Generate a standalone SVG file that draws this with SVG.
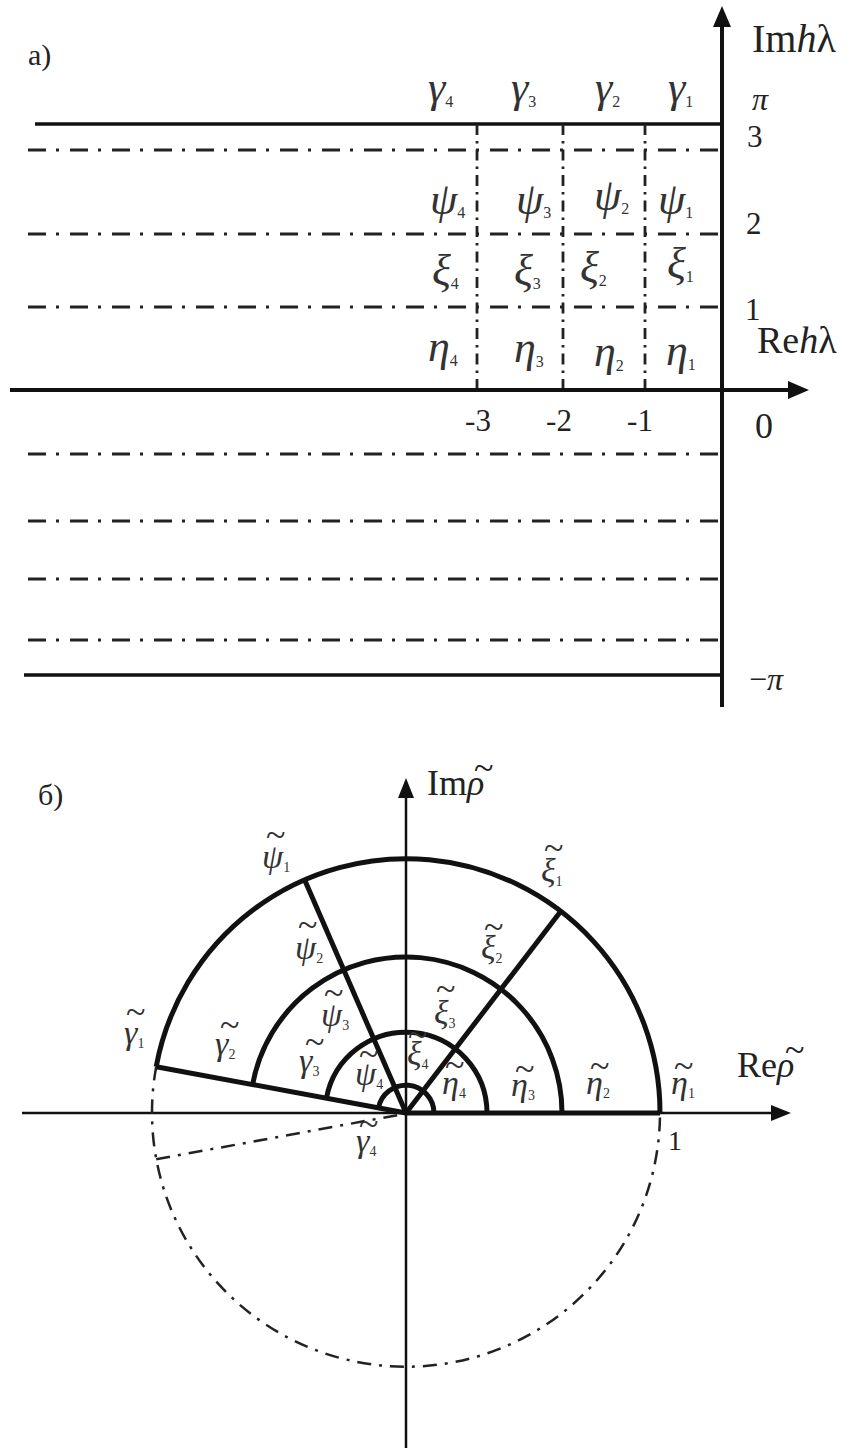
<svg xmlns="http://www.w3.org/2000/svg" width="852" height="1448" viewBox="0 0 852 1448">
<style>
.bg{fill:#fff}
.ax{stroke:#111;stroke-width:4;fill:none}
.ax2{stroke:#111;stroke-width:2.5;fill:none}
.sol{stroke:#111;stroke-width:3.5;fill:none}
.thk{stroke:#111;stroke-width:5;fill:none;stroke-linejoin:round}
.dd{stroke:#222;stroke-width:3;fill:none;stroke-dasharray:18 10 3 11}
.vd{stroke:#222;stroke-width:2.8;fill:none;stroke-dasharray:11 6 2.5 6}
.dc{stroke:#222;stroke-width:2.5;fill:none;stroke-dasharray:14 8 3 8}
.ah{fill:#111}
.g{font-family:"Liberation Serif","DejaVu Serif",serif;font-style:italic;font-size:44px;fill:#333}
.gb{font-family:"Liberation Serif","DejaVu Serif",serif;font-size:36px;fill:#333}
.L{font-style:italic;font-size:34px}
.s{font-style:normal;font-size:16px}
.sb{font-style:normal;font-size:14px}
.t{font-family:"Liberation Serif","DejaVu Serif",serif;fill:#222}
.it{font-style:italic}
</style>
<rect class="bg" x="0" y="0" width="852" height="1448"/>

<g id="panel-a">
  <g id="a-lines">
    <path class="sol" d="M35,124 H722"/>
    <path class="sol" d="M24,675 H722"/>
    <path class="dd" d="M28,150 H722"/>
    <path class="dd" d="M28,234 H722"/>
    <path class="dd" d="M28,307 H722"/>
    <path class="dd" d="M28,454 H722"/>
    <path class="dd" d="M28,521 H722"/>
    <path class="dd" d="M28,579 H722"/>
    <path class="dd" d="M28,640 H722"/>
    <path class="vd" d="M477,124 V390"/>
    <path class="vd" d="M563,124 V390"/>
    <path class="vd" d="M645,124 V390"/>
  </g>
  <g id="a-axes">
    <path class="ax" d="M10,390 H792"/>
    <polygon class="ah" points="809,390 788,381 788,399"/>
    <path class="ax" d="M722,707 V24"/>
    <polygon class="ah" points="722,6 713,27 731,27"/>
  </g>
  <g id="a-labels">
    <text class="t" x="28" y="65" font-size="30">a)</text>
    <text class="t" x="752" y="52" font-size="40">Im<tspan class="it">h</tspan>λ</text>
    <text class="t" x="757" y="353" font-size="38">Re<tspan class="it">h</tspan>λ</text>
    <text class="t it" x="752" y="110" font-size="32">π</text>
    <text class="t" x="747" y="147" font-size="31">3</text>
    <text class="t" x="746" y="234" font-size="31">2</text>
    <text class="t" x="745" y="320" font-size="31">1</text>
    <text class="t" x="755" y="438" font-size="36">0</text>
    <text class="t" x="478" y="431" font-size="31" text-anchor="middle">-3</text>
    <text class="t" x="559" y="431" font-size="31" text-anchor="middle">-2</text>
    <text class="t" x="640" y="431" font-size="31" text-anchor="middle">-1</text>
    <text class="t" x="749" y="690" font-size="32">−<tspan class="it">π</tspan></text>

    <text class="g" x="428" y="102">γ<tspan class="s" dy="5">4</tspan></text>
    <text class="g" x="511" y="102">γ<tspan class="s" dy="5">3</tspan></text>
    <text class="g" x="595" y="102">γ<tspan class="s" dy="5">2</tspan></text>
    <text class="g" x="668" y="102">γ<tspan class="s" dy="5">1</tspan></text>

    <text class="g" x="430" y="214">ψ<tspan class="s" dy="4">4</tspan></text>
    <text class="g" x="516" y="214">ψ<tspan class="s" dy="4">3</tspan></text>
    <text class="g" x="594" y="210">ψ<tspan class="s" dy="4">2</tspan></text>
    <text class="g" x="658" y="214">ψ<tspan class="s" dy="4">1</tspan></text>

    <text class="g" x="432" y="285">ξ<tspan class="s" dy="4">4</tspan></text>
    <text class="g" x="514" y="285">ξ<tspan class="s" dy="4">3</tspan></text>
    <text class="g" x="580" y="282">ξ<tspan class="s" dy="4">2</tspan></text>
    <text class="g" x="667" y="278">ξ<tspan class="s" dy="4">1</tspan></text>

    <text class="g" x="428" y="361">η<tspan class="s" dy="5">4</tspan></text>
    <text class="g" x="514" y="362">η<tspan class="s" dy="5">3</tspan></text>
    <text class="g" x="594" y="366">η<tspan class="s" dy="5">2</tspan></text>
    <text class="g" x="666" y="365">η<tspan class="s" dy="5">1</tspan></text>
  </g>
</g>

<g id="panel-b">
  <g id="b-axes">
    <path class="ax2" d="M22,1113 H775"/>
    <polygon class="ah" points="791,1113 771,1105 771,1121"/>
    <path class="ax2" d="M406,1448 V795"/>
    <polygon class="ah" points="406,778 398,798 414,798"/>
  </g>
  <g id="b-dashed">
    <path class="dc" d="M156.2,1066.7 A254,254 0 1 0 660,1113"/>
    <path class="dc" d="M156.2,1159.3 L398,1115"/>
  </g>
  <g id="b-arcs">
    <path class="thk" d="M156.2,1066.7 A254,254 0 0 1 660,1113"/>
    <path class="thk" d="M252.6,1084.6 A156,156 0 0 1 562,1113"/>
    <path class="thk" d="M326.4,1098.2 A81,81 0 0 1 487,1113"/>
    <path class="thk" d="M378.5,1107.9 A28,28 0 0 1 434,1113"/>
  </g>
  <g id="b-rays">
    <path class="thk" d="M156.2,1066.7 L406,1113"/>
    <path class="thk" d="M304.7,880.1 L406,1113"/>
    <path class="thk" d="M560.6,911.5 L406,1113"/>
    <path class="thk" d="M406,1113 H660"/>
  </g>
  <g id="b-labels">
    <text class="t" x="38" y="805" font-size="30">б)</text>
    <text class="t" x="427" y="795" font-size="36">Im<tspan class="it">ρ</tspan><tspan x="474" y="780">~</tspan></text>
    <text class="t" x="737" y="1077" font-size="36">Re<tspan class="it">ρ</tspan><tspan x="785" y="1062">~</tspan></text>
    <text class="t" x="668" y="1150" font-size="28">1</text>

    <text id="lbl-psi1" class="gb" x="266" y="847">~<tspan class="L" x="262" y="868">ψ</tspan><tspan class="sb" dy="4">1</tspan></text>
    <text id="lbl-psi2" class="gb" x="298" y="937">~<tspan class="L" x="295" y="959">ψ</tspan><tspan class="sb" dy="4">2</tspan></text>
    <text id="lbl-psi3" class="gb" x="324" y="1005">~<tspan class="L" x="321" y="1026">ψ</tspan><tspan class="sb" dy="4">3</tspan></text>
    <text id="lbl-psi4" class="gb" x="359" y="1066">~<tspan class="L" x="355" y="1085">ψ</tspan><tspan class="sb" dy="4">4</tspan></text>

    <text id="lbl-gam1" class="gb" x="126" y="1024">~<tspan class="L" x="124" y="1044">γ</tspan><tspan class="sb" dy="4">1</tspan></text>
    <text id="lbl-gam2" class="gb" x="220" y="1037">~<tspan class="L" x="215" y="1055">γ</tspan><tspan class="sb" dy="4">2</tspan></text>
    <text id="lbl-gam3" class="gb" x="305" y="1054">~<tspan class="L" x="299" y="1072">γ</tspan><tspan class="sb" dy="4">3</tspan></text>
    <text id="lbl-gam4" class="gb" x="359" y="1136">~<tspan class="L" x="356" y="1152">γ</tspan><tspan class="sb" dy="4">4</tspan></text>

    <text id="lbl-xi1" class="gb" x="544" y="860">~<tspan class="L" x="541" y="882">ξ</tspan><tspan class="sb" dy="4">1</tspan></text>
    <text id="lbl-xi2" class="gb" x="484" y="939">~<tspan class="L" x="481" y="959">ξ</tspan><tspan class="sb" dy="4">2</tspan></text>
    <text id="lbl-xi3" class="gb" x="436" y="1001">~<tspan class="L" x="434" y="1024">ξ</tspan><tspan class="sb" dy="4">3</tspan></text>
    <text id="lbl-xi4" class="gb" x="408" y="1047">~<tspan class="L" x="407" y="1065">ξ</tspan><tspan class="sb" dy="4">4</tspan></text>

    <text id="lbl-eta4" class="gb" x="445" y="1077">~<tspan class="L" x="442" y="1094">η</tspan><tspan class="sb" dy="4">4</tspan></text>
    <text id="lbl-eta3" class="gb" x="515" y="1081">~<tspan class="L" x="511" y="1096">η</tspan><tspan class="sb" dy="4">3</tspan></text>
    <text id="lbl-eta2" class="gb" x="590" y="1078">~<tspan class="L" x="586" y="1094">η</tspan><tspan class="sb" dy="4">2</tspan></text>
    <text id="lbl-eta1" class="gb" x="674" y="1078">~<tspan class="L" x="671" y="1094">η</tspan><tspan class="sb" dy="4">1</tspan></text>
  </g>
</g>
</svg>
